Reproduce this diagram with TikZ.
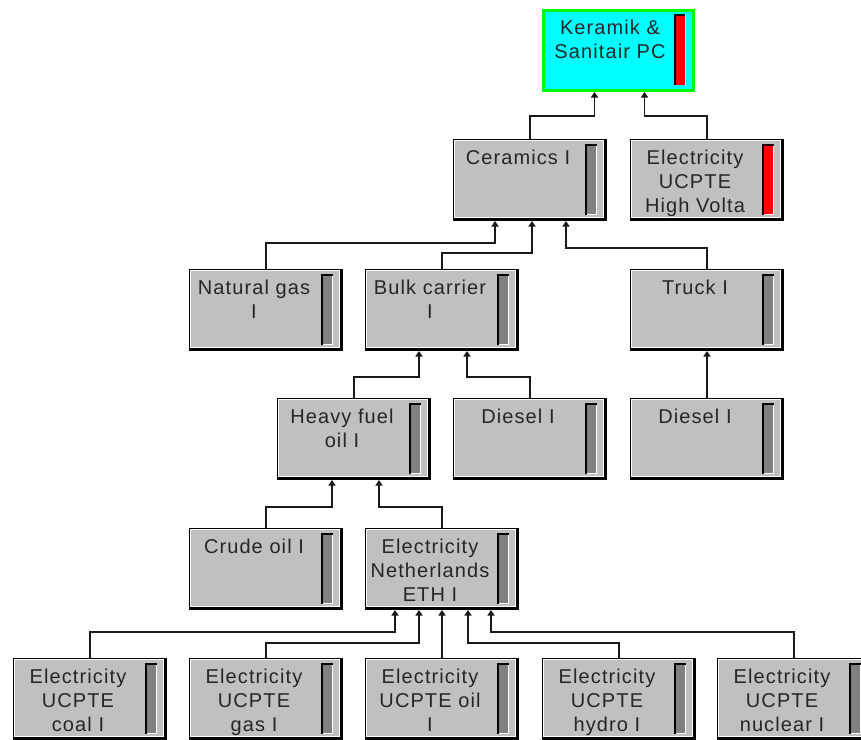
\documentclass[tikz,border=0pt]{standalone}
\usepackage{fontspec}
\setmainfont{Liberation Sans}[LetterSpace=5.5]
\usetikzlibrary{arrows.meta}
\definecolor{boxgray}{HTML}{C0C0C0}
\definecolor{bargray}{HTML}{808080}
\definecolor{kcyan}{HTML}{00FFFF}
\definecolor{kgreen}{HTML}{00FF00}
\definecolor{kred}{HTML}{FF0000}
\tikzset{
  pbox/.style={anchor=north west, minimum width=154pt, minimum height=82pt,
    inner sep=0pt, outer sep=0pt,
    path picture={
      \fill[black] (path picture bounding box.north west) rectangle (path picture bounding box.south east);
      \fill[white] ([shift={(1pt,-1pt)}]path picture bounding box.north west) rectangle ([shift={(-3pt,3pt)}]path picture bounding box.south east);
      \fill[boxgray] ([shift={(2pt,-2pt)}]path picture bounding box.north west) rectangle ([shift={(-4pt,4pt)}]path picture bounding box.south east);
      \fill[#1] ([shift={(-22pt,-5pt)}]path picture bounding box.north east) rectangle ([shift={(-10pt,6pt)}]path picture bounding box.south east);
      \draw[white, line width=1pt] ([shift={(-10.5pt,-5pt)}]path picture bounding box.north east) -- ([shift={(-10.5pt,6.5pt)}]path picture bounding box.south east) -- ([shift={(-22pt,6.5pt)}]path picture bounding box.south east);
      \draw[black, line width=1.5pt] ([shift={(-21.25pt,6pt)}]path picture bounding box.south east) -- ([shift={(-21.25pt,-5.75pt)}]path picture bounding box.north east) -- ([shift={(-10pt,-5.75pt)}]path picture bounding box.north east);
    }},
  pbox/.default=bargray,
  kbox/.style={anchor=north west, minimum width=153pt, minimum height=83pt,
    inner sep=0pt, outer sep=0pt,
    path picture={
      \fill[kgreen] (path picture bounding box.north west) rectangle (path picture bounding box.south east);
      \fill[kcyan] ([shift={(3pt,-3pt)}]path picture bounding box.north west) rectangle ([shift={(-3pt,3pt)}]path picture bounding box.south east);
      \fill[kred] ([shift={(-21pt,-5pt)}]path picture bounding box.north east) rectangle ([shift={(-10pt,7pt)}]path picture bounding box.south east);
      \draw[white!70!kcyan, line width=1pt] ([shift={(-9.5pt,-5pt)}]path picture bounding box.north east) -- ([shift={(-9.5pt,6.5pt)}]path picture bounding box.south east);
      \draw[black, line width=1.5pt] ([shift={(-20.25pt,7pt)}]path picture bounding box.south east) -- ([shift={(-20.25pt,-5.75pt)}]path picture bounding box.north east) -- ([shift={(-10pt,-5.75pt)}]path picture bounding box.north east);
    }},
  ptext/.style={anchor=north, inner sep=0pt, align=center, text=black!85,
    font=\fontsize{20}{24}\selectfont},
  conn/.style={draw=black!90, line width=1.7pt, -{Triangle[width=7pt,length=5.5pt]}}
}
\begin{document}
\begin{tikzpicture}[x=1pt, y=-1pt]
\useasboundingbox (0,0) rectangle (861,739);
\fill[white] (0,0) rectangle (861,739);
\clip (0,0) rectangle (861,739);

% boxes
\node[kbox] (ker) at (542,9) {};
\node[ptext] (kert) at ([shift={(68pt,-11pt)}]ker.north west) {Keramik \&\\Sanitair PC};

\node[pbox] (cer) at (453,139) {};
\node[ptext] (cert) at ([shift={(65pt,-11pt)}]cer.north west) {Ceramics I};
\node[pbox=kred] (ehv) at (630,139) {};
\node[ptext] (ehvt) at ([shift={(65pt,-11pt)}]ehv.north west) {Electricity\\UCPTE\\High Volta};

\node[pbox] (nat) at (189,269) {};
\node[ptext] (natt) at ([shift={(65pt,-11pt)}]nat.north west) {Natural gas\\I};
\node[pbox] (bulk) at (365,269) {};
\node[ptext] (bulkt) at ([shift={(65pt,-11pt)}]bulk.north west) {Bulk carrier\\I};
\node[pbox] (truck) at (630,269) {};
\node[ptext] (truckt) at ([shift={(65pt,-11pt)}]truck.north west) {Truck I};

\node[pbox] (hfo) at (277,398) {};
\node[ptext] (hfot) at ([shift={(65pt,-11pt)}]hfo.north west) {Heavy fuel\\oil I};
\node[pbox] (dsla) at (453,398) {};
\node[ptext] (dslat) at ([shift={(65pt,-11pt)}]dsla.north west) {Diesel I};
\node[pbox] (dslb) at (630,398) {};
\node[ptext] (dslbt) at ([shift={(65pt,-11pt)}]dslb.north west) {Diesel I};

\node[pbox] (crude) at (189,528) {};
\node[ptext] (crudet) at ([shift={(65pt,-11pt)}]crude.north west) {Crude oil I};
\node[pbox] (enl) at (365,528) {};
\node[ptext] (enlt) at ([shift={(65pt,-11pt)}]enl.north west) {Electricity\\Netherlands\\ETH I};

\node[pbox] (coal) at (13,658) {};
\node[ptext] (coalt) at ([shift={(65pt,-11pt)}]coal.north west) {Electricity\\UCPTE\\coal I};
\node[pbox] (gas) at (189,658) {};
\node[ptext] (gast) at ([shift={(65pt,-11pt)}]gas.north west) {Electricity\\UCPTE\\gas I};
\node[pbox] (oil) at (365,658) {};
\node[ptext] (oilt) at ([shift={(65pt,-11pt)}]oil.north west) {Electricity\\UCPTE oil\\I};
\node[pbox] (hydro) at (542,658) {};
\node[ptext] (hydrot) at ([shift={(65pt,-11pt)}]hydro.north west) {Electricity\\UCPTE\\hydro I};
\node[pbox] (nuc) at (717,658) {};
\node[ptext] (nuct) at ([shift={(65pt,-11pt)}]nuc.north west) {Electricity\\UCPTE\\nuclear I};

% connectors
\draw[conn] (cer.north) -- ++(0,-23) -| ([xshift=-24pt]ker.south);
\draw[conn] (ehv.north) -- ++(0,-23) -| ([xshift=26pt]ker.south);

\draw[conn] (nat.north) -- ++(0,-26) -| ([xshift=-35pt]cer.south);
\draw[conn] (bulk.north) -- ++(0,-16) -| ([xshift=2pt]cer.south);
\draw[conn] (truck.north) -- ++(0,-21) -| ([xshift=36pt]cer.south);

\draw[conn] (hfo.north) -- ++(0,-21) -| ([xshift=-23pt]bulk.south);
\draw[conn] (dsla.north) -- ++(0,-21) -| ([xshift=25pt]bulk.south);
\draw[conn] (dslb.north) -- (truck.south);

\draw[conn] (crude.north) -- ++(0,-21) -| ([xshift=-22pt]hfo.south);
\draw[conn] (enl.north) -- ++(0,-21) -| ([xshift=25pt]hfo.south);

\draw[conn] (coal.north) -- ++(0,-26) -| ([xshift=-47pt]enl.south);
\draw[conn] (gas.north) -- ++(0,-15) -| ([xshift=-23pt]enl.south);
\draw[conn] (oil.north) -- (enl.south);
\draw[conn] (hydro.north) -- ++(0,-15) -| ([xshift=26pt]enl.south);
\draw[conn] (nuc.north) -- ++(0,-26) -| ([xshift=49pt]enl.south);
\end{tikzpicture}
\end{document}
